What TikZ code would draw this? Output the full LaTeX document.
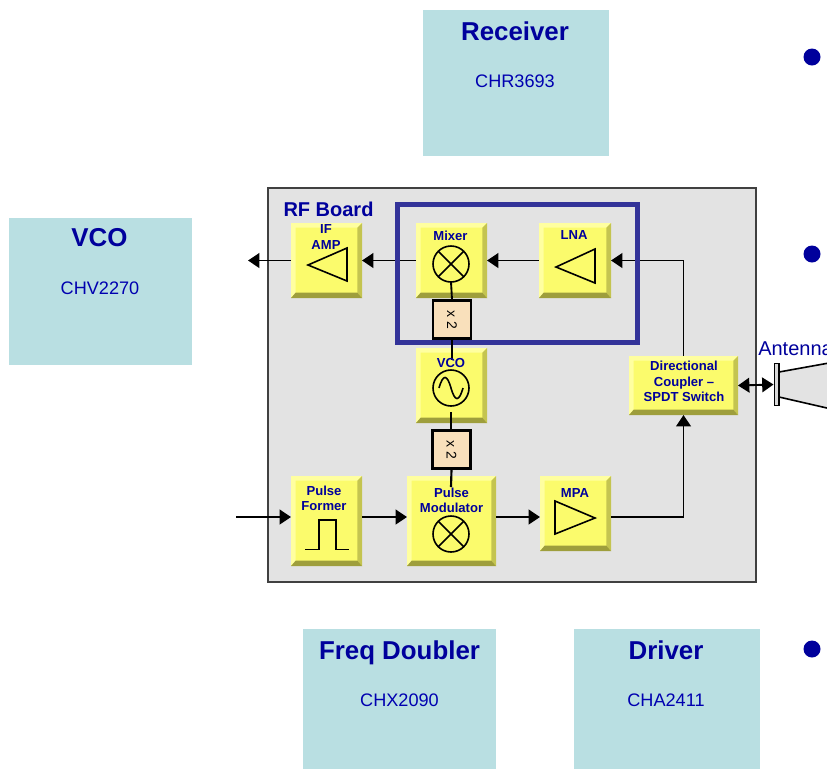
\documentclass[tikz,border=0pt]{standalone}
\usepackage{fontspec}
\setmainfont{Liberation Sans}
\usetikzlibrary{arrows.meta}
\definecolor{chipcyan}{HTML}{B9DFE2}
\definecolor{boardgray}{HTML}{E3E3E3}
\definecolor{blockyellow}{HTML}{FBFB6C}
\definecolor{bevellight}{HTML}{FFFFA0}
\definecolor{bevelside}{HTML}{C4C450}
\definecolor{beveldark}{HTML}{9E9E3C}
\definecolor{titleblue}{HTML}{00009C}
\definecolor{frameblue}{HTML}{333399}
\definecolor{doubletan}{HTML}{F9E0BB}
\tikzset{
    chip/.style 2 args={rectangle, fill=chipcyan, inner sep=0, minimum width=#1*0.75pt, minimum height=#2*0.75pt},
    chiptitle/.style={font=\fontsize{19.4pt}{22pt}\selectfont\bfseries, text=titleblue, inner sep=0},
    chippart/.style={font=\fontsize{13.6pt}{16pt}\selectfont, text=titleblue!80!blue, inner sep=0},
    block/.style 2 args={rectangle, fill=blockyellow, inner sep=0, outer sep=0, minimum width=#1*0.75pt, minimum height=#2*0.75pt,
        path picture={
            \fill[bevellight] (path picture bounding box.north west) -- (path picture bounding box.north east)
                -- ([xshift=-3.5pt,yshift=-3.5pt]path picture bounding box.north east) -- ([xshift=3.5pt,yshift=-3.5pt]path picture bounding box.north west)
                -- ([xshift=3.5pt,yshift=4pt]path picture bounding box.south west) -- (path picture bounding box.south west) -- cycle;
            \fill[bevelside] (path picture bounding box.north east) -- (path picture bounding box.south east)
                -- ([xshift=-3.5pt,yshift=4pt]path picture bounding box.south east) -- ([xshift=-3.5pt,yshift=-3.5pt]path picture bounding box.north east) -- cycle;
            \fill[beveldark] (path picture bounding box.south west) -- (path picture bounding box.south east)
                -- ([xshift=-3.5pt,yshift=4pt]path picture bounding box.south east) -- ([xshift=3.5pt,yshift=4pt]path picture bounding box.south west) -- cycle;
        }},
    blocktext/.style={font=\fontsize{9.8pt}{11.4pt}\selectfont\bfseries, text=titleblue, align=center, inner sep=0},
    doubler/.style={rectangle, draw=black, line width=1.7pt, fill=doubletan, inner sep=0, minimum width=28.5pt, minimum height=28.5pt},
    doubletext/.style={rotate=-90, font=\fontsize{10.5pt}{12pt}\selectfont, inner sep=0},
    mixsym/.style={circle, draw=black, line width=1.2pt, inner sep=0, outer sep=0, minimum size=27pt,
        path picture={
            \draw[line width=1.2pt] (path picture bounding box.south west) -- (path picture bounding box.north east);
            \draw[line width=1.2pt] (path picture bounding box.north west) -- (path picture bounding box.south east);
        }},
    sym/.style={draw=black, line width=1.2pt},
    wire/.style={draw=black, line width=1.4pt},
    flow/.style={wire, -{Triangle[length=8.5pt,width=11pt]}},
    bothflow/.style={wire, {Triangle[length=8.5pt,width=11pt]}-{Triangle[length=8.5pt,width=11pt]}},
    bullet/.style={circle, fill=titleblue, inner sep=0, minimum size=12.75pt},
}
\begin{document}
\begin{tikzpicture}[x=0.75pt, y=-0.75pt]
    \useasboundingbox (0, 0) rectangle (827, 769);
    \clip (0, 0) rectangle (827, 769);
    % chips
    \node[chip={186}{146}] (Receiver) at (516, 83) {};
    \node[chip={183}{147}] (VcoChip) at (100.5, 291.5) {};
    \node[chip={193}{140}] (FreqDoubler) at (399.5, 699) {};
    \node[chip={186}{140}] (Driver) at (667, 699) {};
    \node[chiptitle] (ReceiverTitle) at (515, 31) {Receiver};
    \node[chippart] (ReceiverPart) at (515, 81) {CHR3693};
    \node[chiptitle] (VcoChipTitle) at (99.5, 238) {VCO};
    \node[chippart] (VcoChipPart) at (100, 288) {CHV2270};
    \node[chiptitle] (FreqDoublerTitle) at (399.5, 653) {Freq Doubler};
    \node[chippart] (FreqDoublerPart) at (399.5, 700) {CHX2090};
    \node[chiptitle] (DriverTitle) at (666, 650) {Driver};
    \node[chippart] (DriverPart) at (666, 700) {CHA2411};
    \node[bullet] (BulletA) at (812, 57) {};
    \node[bullet] (BulletB) at (812, 254) {};
    \node[bullet] (BulletC) at (812, 649) {};

    % board
    \node[rectangle, draw=black!75, line width=1pt, fill=boardgray, inner sep=0, minimum width=366pt, minimum height=295.5pt] (Board) at (512, 385) {};
    \node[font=\fontsize{15pt}{18pt}\selectfont\bfseries, text=titleblue, inner sep=0] (BoardTitle) at (328.5, 209) {RF Board};

    % blocks
    \node[block={71}{75}] (IfAmp) at (326.5, 260.5) {};
    \node[block={71}{75}] (Mixer) at (451.5, 260.5) {};
    \node[block={72}{75}] (Lna) at (575, 260.5) {};
    \node[block={71}{75}] (Vco) at (451.5, 385.5) {};
    \node[block={71}{90}] (PulseFormer) at (326.5, 521) {};
    \node[block={89}{90}] (PulseMod) at (451.5, 521) {};
    \node[block={71}{75}] (Mpa) at (575.5, 513.5) {};
    \node[block={109}{59}] (Coupler) at (683.5, 385.5) {};

    % antenna
    \draw[sym, fill=boardgray] (779, 372) -- (840, 361) -- (840, 411) -- (779, 397) -- cycle;
    \node[rectangle, draw=black, line width=0.9pt, fill=black!15, inner sep=0, minimum width=3.6pt, minimum height=32pt] (AntMount) at (776.5, 384.5) {};
    \node[anchor=west, font=\fontsize{15pt}{18pt}\selectfont, text=titleblue, inner sep=0] (AntennaTitle) at (758, 349) {Antenna};

    % symbols
    \node[mixsym] (MixerSym) at (451, 264) {};
    \node[circle, sym, inner sep=0, outer sep=0, minimum size=27pt] (VcoSym) at (451, 388) {};
    \node[mixsym] (PulseModSym) at (451, 534) {};
    \draw[sym] (308, 265) -- (347, 248) -- (347, 281) -- cycle;
    \draw[sym] (556, 267) -- (595, 249) -- (595, 283) -- cycle;
    \draw[sym] (555, 501) -- (595, 518) -- (555, 534) -- cycle;
    \draw[sym] (305, 549.5) -- (319, 549.5) -- (319, 520) -- (336, 520) -- (336, 549.5) -- (349, 549.5);
    \draw[sym] (439, 388) .. controls (443, 374) and (447, 374) .. (451, 388) .. controls (455, 402) and (459, 402) .. (463, 388);

    % connectors
    \coordinate (IfOut) at (248, 260.5);
    \coordinate (PulseIn) at (236, 517);
    \coordinate (VcoTop) at (451, 360);
    \coordinate (VcoBottom) at (451, 412);
    \coordinate (PulseModTop) at (451, 487);
    \path (IfAmp.west) edge [flow] node {} (IfOut);
    \path (Mixer.west) edge [flow] node {} (IfAmp.east);
    \path (Lna.west) edge [flow] node {} (Mixer.east);
    \path [flow] (Coupler.north) |- (Lna.east);
    \path (PulseIn) edge [flow] node {} (PulseIn -| PulseFormer.west);
    \path (PulseFormer.east |- PulseIn) edge [flow] node {} (PulseMod.west |- PulseIn);
    \path (PulseMod.east |- PulseIn) edge [flow] node {} (Mpa.west |- PulseIn);
    \path [flow] (Mpa.east |- PulseIn) -| (Coupler.south);
    \path (Coupler.east) edge [bothflow] node {} (AntMount.west);

    % downconverter frame
    \node[rectangle, draw=frameblue, line width=3.75pt, inner sep=0, minimum width=180pt, minimum height=103.5pt] (RxFrame) at (517.5, 273.5) {};

    % doublers
    \node[doubler] (DoubleTop) at (452, 319.5) {};
    \node[doubler] (DoubleBottom) at (451.5, 449.5) {};
    \node[doubletext] (DoubleTopText) at (452, 319.5) {x 2};
    \node[doubletext] (DoubleBottomText) at (451.5, 449.5) {x 2};
    \path (MixerSym.south) edge [wire] node {} (DoubleTop.north);
    \path (DoubleTop.south) edge [wire, line width=1.6pt] node {} (DoubleTop.south |- VcoTop);
    \path (VcoBottom) edge [wire, line width=1.6pt] node {} (VcoBottom |- DoubleBottom.north);
    \path (DoubleBottom.south) edge [wire, line width=1.6pt] node {} (PulseModTop);

    % block labels
    \node[blocktext] (IfAmpText) at (326, 237) {IF\\AMP};
    \node[blocktext] (MixerText) at (450.5, 236) {Mixer};
    \node[blocktext] (LnaText) at (574, 235) {LNA};
    \node[blocktext] (VcoText) at (451, 363) {VCO};
    \node[blocktext] (PulseFormerText) at (324, 498.5) {Pulse\\Former};
    \node[blocktext] (PulseModText) at (451.5, 500.5) {Pulse\\Modulator};
    \node[blocktext] (MpaText) at (575, 493) {MPA};
    \node[blocktext] (CouplerText) at (684, 381.5) {Directional\\Coupler --\\SPDT Switch};
\end{tikzpicture}
\end{document}
